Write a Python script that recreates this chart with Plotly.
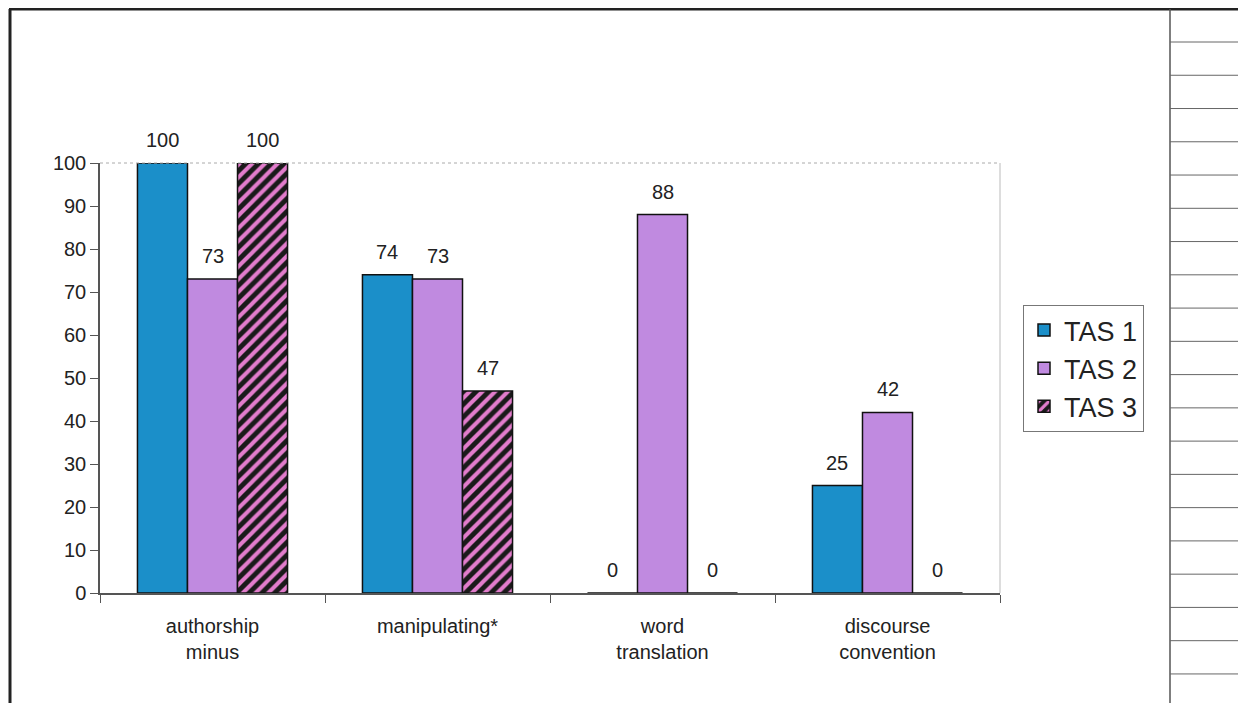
import plotly.graph_objects as go

categories = ["authorship<br>minus", "manipulating*", "word<br>translation", "discourse<br>convention"]
tas1 = [100, 74, 0, 25]
tas2 = [73, 73, 88, 42]
tas3 = [100, 47, 0, 0]
series_names = ["TAS 1", "TAS 2", "TAS 3"]
y_ticks = [0, 10, 20, 30, 40, 50, 60, 70, 80, 90, 100]

OFF = 8  # page body margin
W, H = 1246 - OFF, 703 - OFF
L, R, T, B = 100 - OFF, 1000 - OFF, 163 - OFF, 593 - OFF  # plot area in fig px

FONT = "Liberation Sans, Arial, sans-serif"
BARGAP = 0.333

colors = ["#1b8fc9", "#c08ae0", "#1a1a1a"]
series = [tas1, tas2, tas3]

fig = go.Figure()
for i, (name, vals) in enumerate(zip(series_names, series)):
    marker = dict(color=colors[i], line=dict(color="#111", width=1.5))
    if i == 2:
        marker["pattern"] = dict(shape="/", fgcolor="#e27ccc", bgcolor="#1a1a1a",
                                 size=9, solidity=0.45, fillmode="replace")
    fig.add_trace(go.Bar(name=name, x=categories, y=vals, marker=marker, cliponaxis=False))

# value labels as annotations placed over each bar
cat_px = (R - L) / len(categories)
bar_px = cat_px * (1 - BARGAP) / len(series)
annotations = []
for i, vals in enumerate(series):
    for c, v in zip(categories, vals):
        annotations.append(dict(x=c, y=v, xref="x", yref="y", text=str(v), showarrow=False,
                                xshift=(i - 1) * bar_px, yanchor="bottom", yshift=10,
                                font=dict(size=20, color="#222", family=FONT)))

def px_x(x):
    return (x - OFF - L) / (R - L)

def px_y(y):
    return (B - (y - OFF)) / (B - T)

shapes = []
shapes.append(dict(type="line", xref="paper", yref="paper", x0=0, x1=1, y0=1, y1=1,
                   line=dict(color="#aaaaaa", width=1, dash="dot")))
shapes.append(dict(type="line", xref="paper", yref="paper", x0=1, x1=1, y0=0, y1=1,
                   line=dict(color="#bbbbbb", width=1)))
shapes.append(dict(type="line", xref="paper", yref="paper", x0=px_x(9), x1=px_x(1246), y0=px_y(9), y1=px_y(9),
                   line=dict(color="#222", width=3)))
shapes.append(dict(type="line", xref="paper", yref="paper", x0=px_x(10), x1=px_x(10), y0=px_y(9), y1=px_y(703),
                   line=dict(color="#222", width=3)))
shapes.append(dict(type="line", xref="paper", yref="paper", x0=px_x(1170), x1=px_x(1170), y0=px_y(9), y1=px_y(703),
                   line=dict(color="#555", width=1.5)))
for k in range(20):
    yy = 42 + 33.26 * k
    shapes.append(dict(type="line", xref="paper", yref="paper", x0=px_x(1170), x1=px_x(1246),
                       y0=px_y(yy), y1=px_y(yy), line=dict(color="#666", width=1)))

fig.update_layout(
    width=W, height=H,
    margin=dict(l=L, r=W - R, t=T, b=H - B),
    paper_bgcolor="white", plot_bgcolor="white",
    barmode="group", bargap=BARGAP, bargroupgap=0,
    font=dict(family=FONT, color="#222"),
    showlegend=True,
    legend=dict(x=px_x(1023), y=px_y(305), xanchor="left", yanchor="top",
                bordercolor="#777", borderwidth=1, bgcolor="white",
                font=dict(size=27, family=FONT, color="#222"),
                itemwidth=30, tracegroupgap=0),
    xaxis=dict(showline=True, linecolor="#555", linewidth=1.5,
               ticks="outside", tickson="boundaries", ticklen=8, tickcolor="#555",
               ticklabelstandoff=14,
               tickfont=dict(size=20, family=FONT, color="#222"),
               showgrid=False, fixedrange=True),
    yaxis=dict(range=[0, 100], tickvals=y_ticks, showline=True, linecolor="#555", linewidth=1.5,
               ticks="outside", ticklen=8, tickcolor="#555",
               tickfont=dict(size=20, family=FONT, color="#222"),
               showgrid=False, zeroline=False),
    shapes=shapes,
    annotations=annotations,
)

fig.write_html("out.html")
